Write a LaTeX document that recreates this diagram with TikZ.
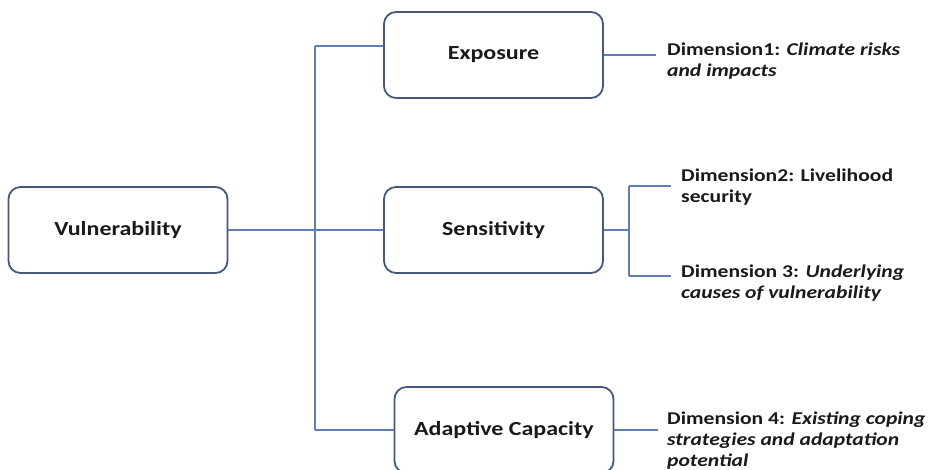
\documentclass[tikz,border=0pt]{standalone}
\usepackage{fontspec}
\setmainfont{Carlito}[FakeStretch=1.2]
\definecolor{boxline}{HTML}{44597A}
\definecolor{connline}{HTML}{5F7FAF}
\definecolor{txt}{HTML}{1A1A1A}
\newcommand\dimfont{\fontsize{18}{21}\selectfont\bfseries}
\tikzset{
  mainbox/.style={draw=boxline, line width=1.8pt, rounded corners=12pt, fill=white,
    minimum width=219pt, minimum height=86pt, inner sep=0pt,
    font=\fontsize{20}{24}\selectfont\bfseries, text=txt},
  conn/.style={draw=connline, line width=1.1pt},
  dimtext/.style={anchor=base west, inner sep=0pt, font=\dimfont, text=txt}
}
\begin{document}
\begin{tikzpicture}[x=1pt,y=-1pt]
\useasboundingbox (0,0) rectangle (929,470);
\node[mainbox] (vul) at (118,230) {Vulnerability};
\node[mainbox] (exp) at (493.5,55) {Exposure};
\node[mainbox] (sen) at (493.5,230) {Sensitivity};
\node[mainbox] (adp) at (504,430) {Adaptive Capacity};
\coordinate (topj) at (315,46);
\coordinate (botj) at (315,430);
\coordinate (sj) at (629,230);
\coordinate (sjt) at (629,186);
\coordinate (sjb) at (629,276);
\coordinate (e1) at (656,55);
\coordinate (e4) at (658,430);
\coordinate (e2) at (671,186);
\coordinate (e3) at (671,276);
\draw[conn] (vul.east) -- (sen.west);
\draw[conn] (topj) -- (botj);
\draw[conn] (topj) -- (topj -| exp.west);
\draw[conn] (botj) -- (adp.west);
\draw[conn] (exp.east) -- (e1);
\draw[conn] (sen.east) -- (sj);
\draw[conn] (sjt) -- (sjb);
\draw[conn] (sjt) -- (e2);
\draw[conn] (sjb) -- (e3);
\draw[conn] (adp.east) -- (e4);
\node[dimtext] (d1) at (667,56) {\begin{tabular}[t]{@{}l@{}}Dimension1: \textit{Climate risks}\\\textit{and impacts}\end{tabular}};
\node[dimtext] (d2) at (681,182) {\begin{tabular}[t]{@{}l@{}}Dimension2: Livelihood\\security\end{tabular}};
\node[dimtext] (d3) at (681,278) {\begin{tabular}[t]{@{}l@{}}Dimension 3: \textit{Underlying}\\\textit{causes of vulnerability}\end{tabular}};
\node[dimtext] (d4) at (667,424) {\begin{tabular}[t]{@{}l@{}}Dimension 4: \textit{Existing coping}\\\textit{strategies and adaptation}\\\textit{potential}\end{tabular}};
\end{tikzpicture}
\end{document}
